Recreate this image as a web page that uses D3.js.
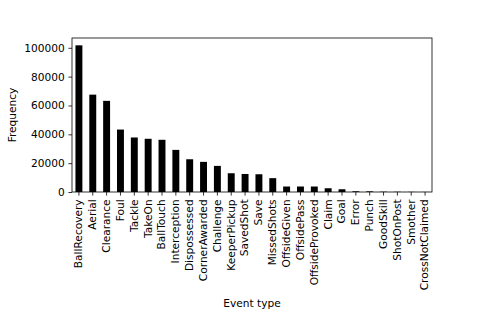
<!DOCTYPE html>
<html>
<head>
<meta charset="utf-8">
<script src="https://cdn.jsdelivr.net/npm/d3@7"></script>
<style>
  body { margin: 0; background: #fff; }
  svg text { font-family: "DejaVu Sans", sans-serif; fill: #000; }
</style>
</head>
<body>
<div id="chart"></div>
<script>
const eventTypes = [
  "BallRecovery", "Aerial", "Clearance", "Foul", "Tackle", "TakeOn", "BallTouch",
  "Interception", "Dispossessed", "CornerAwarded", "Challenge", "KeeperPickup",
  "SavedShot", "Save", "MissedShots", "OffsideGiven", "OffsidePass", "OffsideProvoked",
  "Claim", "Goal", "Error", "Punch", "GoodSkill", "ShotOnPost", "Smother", "CrossNotClaimed"
];
const frequencies = [
  101700, 67500, 63200, 43300, 37800, 36900, 36200,
  29200, 22700, 20900, 18100, 13000,
  12500, 12300, 9600, 3800, 3800, 3800,
  2600, 1900, 500, 450, 200, 150, 100, 50
];
const yTicks = [0, 20000, 40000, 60000, 80000, 100000];

const W = 480, H = 320;
const plot = { left: 72, right: 432, top: 38, bottom: 192 };
const fs = 10.6;

const svg = d3.select('#chart').append('svg')
  .attr('width', W)
  .attr('height', H);

const x = d3.scaleBand()
  .domain(eventTypes)
  .range([plot.left, plot.right])
  .paddingInner(0.5)
  .paddingOuter(0.25);

const y = d3.scaleLinear()
  .domain([0, d3.max(frequencies) * 1.05])
  .range([plot.bottom, plot.top]);

// bars
svg.append('g')
  .selectAll('rect')
  .data(eventTypes)
  .enter()
  .append('rect')
    .attr('x', d => x(d))
    .attr('width', x.bandwidth())
    .attr('y', (d, i) => y(frequencies[i]))
    .attr('height', (d, i) => y(0) - y(frequencies[i]))
    .attr('fill', '#000');

// axes
const xAxis = svg.append('g')
  .attr('transform', `translate(0,${plot.bottom})`)
  .call(d3.axisBottom(x).tickSize(3.6).tickPadding(3.6).tickSizeOuter(0));
xAxis.select('.domain').remove();
xAxis.selectAll('line').attr('stroke', '#000').attr('stroke-width', 0.8);
xAxis.selectAll('text')
  .style('font-size', fs + 'px')
  .attr('transform', 'rotate(-90)')
  .attr('x', -7.4)
  .attr('y', 0)
  .attr('dy', '0.32em')
  .style('text-anchor', 'end');

const yAxis = svg.append('g')
  .attr('transform', `translate(${plot.left},0)`)
  .call(d3.axisLeft(y).tickValues(yTicks).tickFormat(d3.format('d'))
    .tickSize(3.6).tickPadding(3.6).tickSizeOuter(0));
yAxis.select('.domain').remove();
yAxis.selectAll('line').attr('stroke', '#000').attr('stroke-width', 0.8);
yAxis.selectAll('text').style('font-size', fs + 'px');

// frame
svg.append('rect')
  .attr('x', plot.left)
  .attr('y', plot.top)
  .attr('width', plot.right - plot.left)
  .attr('height', plot.bottom - plot.top)
  .attr('fill', 'none')
  .attr('stroke', '#000')
  .attr('stroke-width', 0.8);

// labels
svg.append('text')
  .attr('x', (plot.left + plot.right) / 2)
  .attr('y', 307)
  .attr('text-anchor', 'middle')
  .style('font-size', fs + 'px')
  .text('Event type');

svg.append('text')
  .attr('transform', `translate(15.5,${(plot.top + plot.bottom) / 2}) rotate(-90)`)
  .attr('text-anchor', 'middle')
  .style('font-size', fs + 'px')
  .text('Frequency');
</script>
</body>
</html>
